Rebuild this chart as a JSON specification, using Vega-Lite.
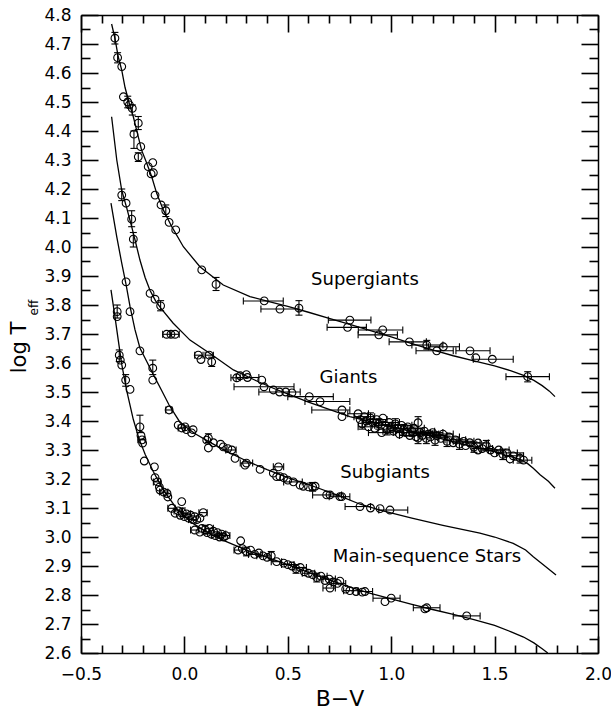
{
"$schema": "https://vega.github.io/schema/vega-lite/v6.json",
"width": 517, "height": 638,
"autosize": {"type": "none"},
"padding": {"left": 81, "top": 15, "right": 13, "bottom": 56},
"background": "white",
"config": {"view": {"stroke": null}, "font": "DejaVu Sans",
  "axis": {"grid": false, "ticks": true, "labelFlush": false, "domainColor": "#000000", "tickColor": "#000000", "labelColor": "black", "titleColor": "black", "domainWidth": 1.5, "tickWidth": 1.6, "labelFont": "DejaVu Sans", "titleFont": "DejaVu Sans", "labelFontSize": 17, "titleFontWeight": "normal"}},
"resolve": {"axis": {"x": "independent", "y": "independent"}},
"datasets": {
"curves": [
{"c":"S","x":-0.352,"y":4.769},{"c":"S","x":-0.336,"y":4.72},{"c":"S","x":-0.32,"y":4.656},{"c":"S","x":-0.303,"y":4.61},{"c":"S","x":-0.287,"y":4.55},{"c":"S","x":-0.266,"y":4.494},{"c":"S","x":-0.247,"y":4.449},{"c":"S","x":-0.231,"y":4.403},{"c":"S","x":-0.207,"y":4.334},{"c":"S","x":-0.182,"y":4.289},{"c":"S","x":-0.158,"y":4.242},{"c":"S","x":-0.134,"y":4.185},{"c":"S","x":-0.102,"y":4.128},{"c":"S","x":-0.061,"y":4.07},{"c":"S","x":-0.005,"y":4.001},{"c":"S","x":0.075,"y":3.932},{"c":"S","x":0.188,"y":3.869},{"c":"S","x":0.317,"y":3.829},{"c":"S","x":0.414,"y":3.811},{"c":"S","x":0.5,"y":3.795},{"c":"S","x":0.6,"y":3.775},{"c":"S","x":0.7,"y":3.754},{"c":"S","x":0.8,"y":3.733},{"c":"S","x":0.9,"y":3.712},{"c":"S","x":1.0,"y":3.69},{"c":"S","x":1.1,"y":3.667},{"c":"S","x":1.2,"y":3.645},{"c":"S","x":1.3,"y":3.625},{"c":"S","x":1.4,"y":3.607},{"c":"S","x":1.5,"y":3.59},{"c":"S","x":1.58,"y":3.573},{"c":"S","x":1.64,"y":3.557},{"c":"S","x":1.69,"y":3.54},{"c":"S","x":1.73,"y":3.522},{"c":"S","x":1.765,"y":3.503},{"c":"S","x":1.792,"y":3.484},
{"c":"G","x":-0.352,"y":4.449},{"c":"G","x":-0.327,"y":4.3},{"c":"G","x":-0.303,"y":4.195},{"c":"G","x":-0.279,"y":4.135},{"c":"G","x":-0.255,"y":4.07},{"c":"G","x":-0.239,"y":4.025},{"c":"G","x":-0.215,"y":3.955},{"c":"G","x":-0.19,"y":3.895},{"c":"G","x":-0.166,"y":3.85},{"c":"G","x":-0.14,"y":3.815},{"c":"G","x":-0.115,"y":3.79},{"c":"G","x":-0.054,"y":3.737},{"c":"G","x":0.027,"y":3.679},{"c":"G","x":0.124,"y":3.633},{"c":"G","x":0.237,"y":3.576},{"c":"G","x":0.35,"y":3.538},{"c":"G","x":0.43,"y":3.513},{"c":"G","x":0.511,"y":3.49},{"c":"G","x":0.6,"y":3.465},{"c":"G","x":0.7,"y":3.44},{"c":"G","x":0.8,"y":3.415},{"c":"G","x":0.9,"y":3.398},{"c":"G","x":1.0,"y":3.381},{"c":"G","x":1.1,"y":3.364},{"c":"G","x":1.2,"y":3.347},{"c":"G","x":1.3,"y":3.328},{"c":"G","x":1.4,"y":3.311},{"c":"G","x":1.5,"y":3.294},{"c":"G","x":1.56,"y":3.281},{"c":"G","x":1.623,"y":3.268},{"c":"G","x":1.66,"y":3.253},{"c":"G","x":1.687,"y":3.237},{"c":"G","x":1.72,"y":3.215},{"c":"G","x":1.76,"y":3.192},{"c":"G","x":1.792,"y":3.168},
{"c":"SG","x":-0.355,"y":4.151},{"c":"SG","x":-0.327,"y":4.035},{"c":"SG","x":-0.303,"y":3.944},{"c":"SG","x":-0.282,"y":3.87},{"c":"SG","x":-0.263,"y":3.795},{"c":"SG","x":-0.239,"y":3.715},{"c":"SG","x":-0.215,"y":3.652},{"c":"SG","x":-0.182,"y":3.605},{"c":"SG","x":-0.15,"y":3.56},{"c":"SG","x":-0.11,"y":3.505},{"c":"SG","x":-0.074,"y":3.455},{"c":"SG","x":-0.021,"y":3.395},{"c":"SG","x":0.05,"y":3.357},{"c":"SG","x":0.12,"y":3.328},{"c":"SG","x":0.2,"y":3.297},{"c":"SG","x":0.301,"y":3.262},{"c":"SG","x":0.4,"y":3.232},{"c":"SG","x":0.5,"y":3.205},{"c":"SG","x":0.623,"y":3.175},{"c":"SG","x":0.75,"y":3.142},{"c":"SG","x":0.85,"y":3.113},{"c":"SG","x":0.946,"y":3.093},{"c":"SG","x":1.1,"y":3.065},{"c":"SG","x":1.25,"y":3.04},{"c":"SG","x":1.429,"y":3.013},{"c":"SG","x":1.5,"y":3.0},{"c":"SG","x":1.59,"y":2.978},{"c":"SG","x":1.65,"y":2.955},{"c":"SG","x":1.687,"y":2.932},{"c":"SG","x":1.74,"y":2.902},{"c":"SG","x":1.797,"y":2.869},
{"c":"MS","x":-0.355,"y":3.852},{"c":"MS","x":-0.338,"y":3.77},{"c":"MS","x":-0.32,"y":3.68},{"c":"MS","x":-0.303,"y":3.595},{"c":"MS","x":-0.279,"y":3.505},{"c":"MS","x":-0.247,"y":3.405},{"c":"MS","x":-0.22,"y":3.34},{"c":"MS","x":-0.19,"y":3.285},{"c":"MS","x":-0.15,"y":3.225},{"c":"MS","x":-0.1,"y":3.16},{"c":"MS","x":-0.037,"y":3.098},{"c":"MS","x":0.03,"y":3.052},{"c":"MS","x":0.124,"y":3.01},{"c":"MS","x":0.2,"y":2.985},{"c":"MS","x":0.3,"y":2.955},{"c":"MS","x":0.4,"y":2.93},{"c":"MS","x":0.5,"y":2.905},{"c":"MS","x":0.6,"y":2.878},{"c":"MS","x":0.7,"y":2.852},{"c":"MS","x":0.8,"y":2.827},{"c":"MS","x":0.9,"y":2.806},{"c":"MS","x":1.0,"y":2.787},{"c":"MS","x":1.1,"y":2.768},{"c":"MS","x":1.2,"y":2.75},{"c":"MS","x":1.3,"y":2.733},{"c":"MS","x":1.4,"y":2.715},{"c":"MS","x":1.5,"y":2.695},{"c":"MS","x":1.58,"y":2.673},{"c":"MS","x":1.64,"y":2.655},{"c":"MS","x":1.69,"y":2.635},{"c":"MS","x":1.73,"y":2.615},{"c":"MS","x":1.757,"y":2.6}
],
"pts": [
{"g":"S","x":-0.336,"y":4.72,"yl":4.70,"yh":4.74},{"g":"S","x":-0.323,"y":4.653,"yl":4.635,"yh":4.67},{"g":"S","x":-0.303,"y":4.622},{"g":"S","x":-0.295,"y":4.518},{"g":"S","x":-0.274,"y":4.50,"yl":4.48,"yh":4.52},{"g":"S","x":-0.266,"y":4.49},{"g":"S","x":-0.252,"y":4.478,"yl":4.455,"yh":4.49},{"g":"S","x":-0.223,"y":4.427,"yl":4.405,"yh":4.45},{"g":"S","x":-0.244,"y":4.389,"yl":4.34,"yh":4.40},{"g":"S","x":-0.211,"y":4.346},{"g":"S","x":-0.223,"y":4.311,"yl":4.295,"yh":4.325},{"g":"S","x":-0.175,"y":4.277},{"g":"S","x":-0.153,"y":4.291},{"g":"S","x":-0.161,"y":4.252},{"g":"S","x":-0.15,"y":4.256},{"g":"S","x":-0.142,"y":4.179},{"g":"S","x":-0.113,"y":4.145},{"g":"S","x":-0.09,"y":4.125,"yl":4.105,"yh":4.145},{"g":"S","x":-0.074,"y":4.085},{"g":"S","x":-0.042,"y":4.059},{"g":"S","x":0.084,"y":3.921},{"g":"S","x":0.153,"y":3.871,"yl":3.85,"yh":3.895},{"g":"S","x":0.386,"y":3.814,"xl":0.285,"xh":0.478},{"g":"S","x":0.462,"y":3.786,"xl":0.37,"xh":0.55},{"g":"S","x":0.554,"y":3.789,"yl":3.765,"yh":3.815},{"g":"S","x":0.80,"y":3.748,"xl":0.696,"xh":0.902},{"g":"S","x":0.789,"y":3.723,"xl":0.69,"xh":0.88},{"g":"S","x":0.959,"y":3.714,"xl":0.841,"xh":1.056},{"g":"S","x":0.94,"y":3.697,"xl":0.84,"xh":1.03},{"g":"S","x":1.088,"y":3.673,"xl":0.99,"xh":1.17},{"g":"S","x":1.172,"y":3.662,"xl":1.1,"xh":1.25,"yl":3.648,"yh":3.678},{"g":"S","x":1.22,"y":3.642,"xl":1.12,"xh":1.3},{"g":"S","x":1.252,"y":3.656,"xl":1.18,"xh":1.33},{"g":"S","x":1.381,"y":3.642,"xl":1.313,"xh":1.478},{"g":"S","x":1.409,"y":3.618},{"g":"S","x":1.489,"y":3.613,"xl":1.397,"xh":1.59},{"g":"S","x":1.66,"y":3.553,"xl":1.555,"xh":1.765,"yl":3.535,"yh":3.57},
{"g":"G","x":-0.303,"y":4.179,"yl":4.16,"yh":4.2},{"g":"G","x":-0.282,"y":4.151},{"g":"G","x":-0.255,"y":4.096,"yl":4.07,"yh":4.125},{"g":"G","x":-0.247,"y":4.027,"yl":4.0,"yh":4.05},{"g":"G","x":-0.166,"y":3.84},{"g":"G","x":-0.142,"y":3.82},{"g":"G","x":-0.115,"y":3.797,"yl":3.78,"yh":3.815},{"g":"G","x":-0.086,"y":3.699,"xl":-0.105,"xh":-0.07},{"g":"G","x":-0.065,"y":3.699},{"g":"G","x":-0.045,"y":3.699,"xl":-0.065,"xh":-0.025},{"g":"G","x":0.067,"y":3.627,"xl":0.05,"xh":0.09},{"g":"G","x":0.08,"y":3.612},{"g":"G","x":0.12,"y":3.627,"xl":0.1,"xh":0.14},{"g":"G","x":0.132,"y":3.604,"yl":3.588,"yh":3.62},{"g":"G","x":0.253,"y":3.549,"xl":0.225,"xh":0.27},{"g":"G","x":0.27,"y":3.556},{"g":"G","x":0.3,"y":3.56},{"g":"G","x":0.305,"y":3.55,"xl":0.25,"xh":0.36},{"g":"G","x":0.374,"y":3.541},{"g":"G","x":0.385,"y":3.518,"xl":0.24,"xh":0.53},{"g":"G","x":0.43,"y":3.507},{"g":"G","x":0.46,"y":3.50,"xl":0.36,"xh":0.56},{"g":"G","x":0.49,"y":3.50},{"g":"G","x":0.52,"y":3.497},{"g":"G","x":0.604,"y":3.484,"xl":0.5,"xh":0.72},{"g":"G","x":0.656,"y":3.467,"xl":0.583,"xh":0.80},{"g":"G","x":0.762,"y":3.438,"xl":0.616,"xh":0.80},{"g":"G","x":0.762,"y":3.415},
{"g":"G","x":0.84,"y":3.425,"xl":0.79,"xh":0.89},{"g":"G","x":0.85,"y":3.405},{"g":"G","x":0.86,"y":3.39,"yl":3.372,"yh":3.408},{"g":"G","x":0.87,"y":3.415,"xl":0.82,"xh":0.92},{"g":"G","x":0.88,"y":3.40},{"g":"G","x":0.89,"y":3.38,"xl":0.84,"xh":0.94},{"g":"G","x":0.90,"y":3.41,"yl":3.392,"yh":3.428},{"g":"G","x":0.91,"y":3.395,"xl":0.86,"xh":0.96},{"g":"G","x":0.92,"y":3.375},{"g":"G","x":0.93,"y":3.405,"xl":0.88,"xh":0.98},{"g":"G","x":0.94,"y":3.39,"yl":3.372,"yh":3.408},{"g":"G","x":0.954,"y":3.36,"xl":0.89,"xh":1.01},{"g":"G","x":0.96,"y":3.41},{"g":"G","x":0.97,"y":3.385,"xl":0.92,"xh":1.02},{"g":"G","x":0.98,"y":3.37,"yl":3.352,"yh":3.388},{"g":"G","x":0.99,"y":3.395,"xl":0.94,"xh":1.04},{"g":"G","x":1.0,"y":3.38},{"g":"G","x":1.01,"y":3.365,"xl":0.96,"xh":1.06},{"g":"G","x":1.02,"y":3.39,"yl":3.372,"yh":3.408},{"g":"G","x":1.03,"y":3.375,"xl":0.98,"xh":1.08},{"g":"G","x":1.04,"y":3.355},{"g":"G","x":1.05,"y":3.385,"xl":1.0,"xh":1.1},{"g":"G","x":1.06,"y":3.37,"yl":3.352,"yh":3.388},{"g":"G","x":1.07,"y":3.36,"xl":1.02,"xh":1.12},{"g":"G","x":1.08,"y":3.38},{"g":"G","x":1.09,"y":3.35,"xl":1.04,"xh":1.14},{"g":"G","x":1.10,"y":3.365,"yl":3.347,"yh":3.383},{"g":"G","x":1.11,"y":3.375,"xl":1.06,"xh":1.16},{"g":"G","x":1.12,"y":3.345},{"g":"G","x":1.13,"y":3.394,"yl":3.375,"yh":3.415},{"g":"G","x":1.13,"y":3.341,"yl":3.322,"yh":3.36},{"g":"G","x":1.14,"y":3.36,"xl":1.09,"xh":1.19},{"g":"G","x":1.15,"y":3.35},{"g":"G","x":1.16,"y":3.365,"xl":1.11,"xh":1.21},{"g":"G","x":1.17,"y":3.34,"yl":3.322,"yh":3.358},{"g":"G","x":1.18,"y":3.355,"xl":1.13,"xh":1.23},{"g":"G","x":1.19,"y":3.345},{"g":"G","x":1.2,"y":3.36,"xl":1.15,"xh":1.25},{"g":"G","x":1.212,"y":3.334,"yl":3.316,"yh":3.352},{"g":"G","x":1.22,"y":3.35,"xl":1.17,"xh":1.27},{"g":"G","x":1.24,"y":3.34},{"g":"G","x":1.25,"y":3.355,"xl":1.2,"xh":1.3},{"g":"G","x":1.27,"y":3.33,"yl":3.312,"yh":3.348},{"g":"G","x":1.28,"y":3.345,"xl":1.23,"xh":1.33},{"g":"G","x":1.30,"y":3.325},{"g":"G","x":1.31,"y":3.335,"xl":1.26,"xh":1.36},{"g":"G","x":1.33,"y":3.32,"yl":3.302,"yh":3.338},{"g":"G","x":1.35,"y":3.33,"xl":1.3,"xh":1.4},{"g":"G","x":1.36,"y":3.315},{"g":"G","x":1.38,"y":3.325,"xl":1.33,"xh":1.43},{"g":"G","x":1.40,"y":3.31,"yl":3.292,"yh":3.328},{"g":"G","x":1.42,"y":3.324,"xl":1.37,"xh":1.47},{"g":"G","x":1.42,"y":3.30},{"g":"G","x":1.44,"y":3.305,"xl":1.39,"xh":1.49},{"g":"G","x":1.46,"y":3.315,"yl":3.297,"yh":3.333},{"g":"G","x":1.48,"y":3.30,"xl":1.43,"xh":1.53},{"g":"G","x":1.50,"y":3.29},{"g":"G","x":1.52,"y":3.30,"xl":1.47,"xh":1.57},{"g":"G","x":1.54,"y":3.285,"yl":3.267,"yh":3.303},{"g":"G","x":1.56,"y":3.29,"xl":1.51,"xh":1.61},{"g":"G","x":1.575,"y":3.269},{"g":"G","x":1.59,"y":3.28,"xl":1.54,"xh":1.64},{"g":"G","x":1.623,"y":3.272,"yl":3.255,"yh":3.29},{"g":"G","x":1.64,"y":3.265,"xl":1.59,"xh":1.68},
{"g":"SG","x":-0.282,"y":3.88},{"g":"SG","x":-0.263,"y":3.777},{"g":"SG","x":-0.215,"y":3.642},{"g":"SG","x":-0.153,"y":3.582,"yl":3.56,"yh":3.61},{"g":"SG","x":-0.153,"y":3.541},{"g":"SG","x":-0.074,"y":3.438,"xl":-0.09,"xh":-0.06},{"g":"SG","x":-0.03,"y":3.386},{"g":"SG","x":-0.013,"y":3.376,"xl":-0.03,"xh":0.0},{"g":"SG","x":0.003,"y":3.38},{"g":"SG","x":0.01,"y":3.37},{"g":"SG","x":0.035,"y":3.359},{"g":"SG","x":0.042,"y":3.37},{"g":"SG","x":0.108,"y":3.334},{"g":"SG","x":0.116,"y":3.341,"yl":3.326,"yh":3.356},{"g":"SG","x":0.116,"y":3.307},{"g":"SG","x":0.14,"y":3.325},{"g":"SG","x":0.175,"y":3.32},{"g":"SG","x":0.188,"y":3.311},{"g":"SG","x":0.21,"y":3.305},{"g":"SG","x":0.229,"y":3.30,"xl":0.2,"xh":0.25},{"g":"SG","x":0.245,"y":3.271},{"g":"SG","x":0.293,"y":3.248},{"g":"SG","x":0.3,"y":3.255,"xl":0.27,"xh":0.33},{"g":"SG","x":0.366,"y":3.233},{"g":"SG","x":0.455,"y":3.242,"xl":0.43,"xh":0.48},{"g":"SG","x":0.43,"y":3.22},{"g":"SG","x":0.446,"y":3.208},{"g":"SG","x":0.462,"y":3.208},{"g":"SG","x":0.48,"y":3.205},{"g":"SG","x":0.5,"y":3.196},{"g":"SG","x":0.527,"y":3.19,"xl":0.48,"xh":0.57},{"g":"SG","x":0.559,"y":3.179},{"g":"SG","x":0.575,"y":3.175},{"g":"SG","x":0.6,"y":3.173},{"g":"SG","x":0.62,"y":3.173,"yl":3.158,"yh":3.188},{"g":"SG","x":0.632,"y":3.175},{"g":"SG","x":0.688,"y":3.145,"xl":0.62,"xh":0.76},{"g":"SG","x":0.704,"y":3.145},{"g":"SG","x":0.752,"y":3.139,"xl":0.7,"xh":0.8},{"g":"SG","x":0.761,"y":3.139},{"g":"SG","x":0.849,"y":3.105,"xl":0.777,"xh":0.9},{"g":"SG","x":0.90,"y":3.10},{"g":"SG","x":0.946,"y":3.098},{"g":"SG","x":0.994,"y":3.093,"xl":0.94,"xh":1.08},
{"g":"MS","x":-0.325,"y":3.777,"yl":3.755,"yh":3.8},{"g":"MS","x":-0.325,"y":3.76},{"g":"MS","x":-0.315,"y":3.627,"yl":3.605,"yh":3.645},{"g":"MS","x":-0.31,"y":3.61},{"g":"MS","x":-0.303,"y":3.593},{"g":"MS","x":-0.284,"y":3.541,"yl":3.52,"yh":3.56},{"g":"MS","x":-0.263,"y":3.509},{"g":"MS","x":-0.215,"y":3.38,"yl":3.36,"yh":3.42},{"g":"MS","x":-0.21,"y":3.35},{"g":"MS","x":-0.205,"y":3.335,"xl":-0.225,"xh":-0.19},{"g":"MS","x":-0.202,"y":3.324},{"g":"MS","x":-0.194,"y":3.262},{"g":"MS","x":-0.145,"y":3.242},{"g":"MS","x":-0.142,"y":3.205},{"g":"MS","x":-0.13,"y":3.19,"xl":-0.15,"xh":-0.115},{"g":"MS","x":-0.121,"y":3.172},{"g":"MS","x":-0.118,"y":3.162},{"g":"MS","x":-0.1,"y":3.155,"xl":-0.12,"xh":-0.08},{"g":"MS","x":-0.084,"y":3.15},{"g":"MS","x":-0.08,"y":3.138},{"g":"MS","x":-0.061,"y":3.099,"xl":-0.08,"xh":-0.045},{"g":"MS","x":-0.013,"y":3.122},{"g":"MS","x":-0.045,"y":3.082},{"g":"MS","x":-0.03,"y":3.09,"xl":-0.05,"xh":-0.01},{"g":"MS","x":-0.02,"y":3.075},{"g":"MS","x":-0.01,"y":3.085,"yl":3.07,"yh":3.1},{"g":"MS","x":0.0,"y":3.07},{"g":"MS","x":0.01,"y":3.08,"xl":-0.01,"xh":0.03},{"g":"MS","x":0.02,"y":3.065},{"g":"MS","x":0.03,"y":3.075},{"g":"MS","x":0.04,"y":3.06,"xl":0.02,"xh":0.06},{"g":"MS","x":0.05,"y":3.07},{"g":"MS","x":0.06,"y":3.06},{"g":"MS","x":0.075,"y":3.065},{"g":"MS","x":0.091,"y":3.084,"xl":0.07,"xh":0.11},{"g":"MS","x":0.05,"y":3.024,"xl":0.03,"xh":0.07},{"g":"MS","x":0.075,"y":3.017},{"g":"MS","x":0.085,"y":3.03},{"g":"MS","x":0.1,"y":3.025,"yl":3.01,"yh":3.04},{"g":"MS","x":0.11,"y":3.015},{"g":"MS","x":0.12,"y":3.03,"xl":0.1,"xh":0.14},{"g":"MS","x":0.13,"y":3.01},{"g":"MS","x":0.14,"y":3.02},{"g":"MS","x":0.15,"y":3.005,"xl":0.13,"xh":0.17},{"g":"MS","x":0.16,"y":3.015},{"g":"MS","x":0.17,"y":3.0},{"g":"MS","x":0.18,"y":3.01,"xl":0.16,"xh":0.2},{"g":"MS","x":0.19,"y":3.0},{"g":"MS","x":0.2,"y":3.005,"xl":0.18,"xh":0.22},{"g":"MS","x":0.272,"y":2.987},{"g":"MS","x":0.26,"y":2.955,"xl":0.24,"xh":0.28},{"g":"MS","x":0.28,"y":2.96},{"g":"MS","x":0.3,"y":2.95,"yl":2.935,"yh":2.965},{"g":"MS","x":0.32,"y":2.955},{"g":"MS","x":0.34,"y":2.94,"xl":0.31,"xh":0.37},{"g":"MS","x":0.36,"y":2.945},{"g":"MS","x":0.38,"y":2.935,"xl":0.35,"xh":0.41},{"g":"MS","x":0.40,"y":2.93},{"g":"MS","x":0.42,"y":2.935,"yl":2.92,"yh":2.95},{"g":"MS","x":0.446,"y":2.915,"xl":0.42,"xh":0.47},{"g":"MS","x":0.48,"y":2.91},{"g":"MS","x":0.5,"y":2.905,"xl":0.47,"xh":0.53},{"g":"MS","x":0.52,"y":2.9},{"g":"MS","x":0.54,"y":2.89,"yl":2.875,"yh":2.905},{"g":"MS","x":0.56,"y":2.895,"xl":0.53,"xh":0.59},{"g":"MS","x":0.58,"y":2.88},{"g":"MS","x":0.6,"y":2.875,"xl":0.57,"xh":0.63},{"g":"MS","x":0.62,"y":2.87},{"g":"MS","x":0.64,"y":2.86,"yl":2.845,"yh":2.875},{"g":"MS","x":0.66,"y":2.865,"xl":0.63,"xh":0.69},{"g":"MS","x":0.68,"y":2.85},{"g":"MS","x":0.7,"y":2.855,"xl":0.67,"xh":0.73},{"g":"MS","x":0.72,"y":2.845},{"g":"MS","x":0.74,"y":2.84,"xl":0.71,"xh":0.78},{"g":"MS","x":0.752,"y":2.848},{"g":"MS","x":0.704,"y":2.824,"xl":0.67,"xh":0.73},{"g":"MS","x":0.78,"y":2.82},{"g":"MS","x":0.8,"y":2.815,"xl":0.77,"xh":0.84},{"g":"MS","x":0.83,"y":2.812},{"g":"MS","x":0.86,"y":2.81},{"g":"MS","x":0.873,"y":2.812,"xl":0.84,"xh":0.91},{"g":"MS","x":0.97,"y":2.777},{"g":"MS","x":1.0,"y":2.789,"xl":0.912,"xh":1.043},{"g":"MS","x":1.163,"y":2.752},{"g":"MS","x":1.172,"y":2.756,"xl":1.107,"xh":1.236},{"g":"MS","x":1.365,"y":2.728,"xl":1.3,"xh":1.43}
],
"labels": [
{"t":"Supergiants","x":0.873,"y":3.886},{"t":"Giants","x":0.793,"y":3.549},{"t":"Subgiants","x":0.97,"y":3.22},{"t":"Main-sequence Stars","x":1.173,"y":2.932}
]
},
"layer": [
{"data": {"name": "curves"},
 "mark": {"type": "line", "color": "black", "strokeWidth": 1.3},
 "encoding": {
  "x": {"field": "x", "type": "quantitative", "scale": {"domain": [-0.5, 2.0], "nice": false, "zero": false},
        "axis": {"orient": "bottom", "values": [-0.5,0,0.5,1,1.5,2], "format": ".1f", "ticks": false, "labelPadding": 13, "title": "B−V", "titleFontSize": 22, "titleBaseline": "alphabetic", "titleY": 52}},
  "y": {"field": "y", "type": "quantitative", "scale": {"domain": [2.6, 4.8], "nice": false, "zero": false},
        "axis": {"orient": "left", "values": [2.6,2.7,2.8,2.9,3.0,3.1,3.2,3.3,3.4,3.5,3.6,3.7,3.8,3.9,4.0,4.1,4.2,4.3,4.4,4.5,4.6,4.7,4.8], "format": ".1f", "ticks": false, "labelPadding": 10, "title": "log T", "titleFontSize": 21, "titleAngle": 270, "titleAlign": "center", "titleBaseline": "alphabetic", "titleX": -56, "titleY": 332}},
  "detail": {"field": "c"}}},
{"data": {"name": "curves"},
 "mark": {"type": "point", "opacity": 0},
 "encoding": {
  "x": {"field": "x", "type": "quantitative", "scale": {"domain": [-0.5, 2.0], "nice": false, "zero": false},
        "axis": {"orient": "bottom", "zindex": 1, "values": [-0.5,0,0.5,1,1.5,2], "tickSize": -17, "labels": false, "domain": false, "title": null}},
  "y": {"field": "y", "type": "quantitative", "scale": {"domain": [2.6, 4.8], "nice": false, "zero": false},
        "axis": {"orient": "left", "zindex": 1, "values": [2.6,2.7,2.8,2.9,3.0,3.1,3.2,3.3,3.4,3.5,3.6,3.7,3.8,3.9,4.0,4.1,4.2,4.3,4.4,4.5,4.6,4.7,4.8], "tickSize": -17, "labels": false, "domain": false, "title": null}}}},
{"data": {"name": "curves"},
 "mark": {"type": "point", "opacity": 0},
 "encoding": {
  "x": {"field": "x", "type": "quantitative", "scale": {"domain": [-0.5, 2.0], "nice": false, "zero": false},
        "axis": {"orient": "bottom", "zindex": 1, "values": [-0.4,-0.3,-0.2,-0.1,0.1,0.2,0.3,0.4,0.6,0.7,0.8,0.9,1.1,1.2,1.3,1.4,1.6,1.7,1.8,1.9], "tickSize": -8, "labels": false, "domain": false, "title": null}},
  "y": {"field": "y", "type": "quantitative", "scale": {"domain": [2.6, 4.8], "nice": false, "zero": false},
        "axis": {"orient": "left", "zindex": 1, "values": [2.65,2.75,2.85,2.95,3.05,3.15,3.25,3.35,3.45,3.55,3.65,3.75,3.85,3.95,4.05,4.15,4.25,4.35,4.45,4.55,4.65,4.75], "tickSize": -9, "labels": false, "domain": false, "title": null}}}},
{"data": {"name": "curves"},
 "mark": {"type": "point", "opacity": 0},
 "encoding": {
  "x": {"field": "x", "type": "quantitative", "scale": {"domain": [-0.5, 2.0], "nice": false, "zero": false},
        "axis": {"orient": "top", "zindex": 1, "values": [-0.5,0,0.5,1,1.5,2], "tickSize": -17, "labels": false, "title": null}},
  "y": {"field": "y", "type": "quantitative", "scale": {"domain": [2.6, 4.8], "nice": false, "zero": false},
        "axis": {"orient": "right", "zindex": 1, "values": [2.6,2.7,2.8,2.9,3.0,3.1,3.2,3.3,3.4,3.5,3.6,3.7,3.8,3.9,4.0,4.1,4.2,4.3,4.4,4.5,4.6,4.7,4.8], "tickSize": -17, "labels": false, "title": null}}}},
{"data": {"name": "curves"},
 "mark": {"type": "point", "opacity": 0},
 "encoding": {
  "x": {"field": "x", "type": "quantitative", "scale": {"domain": [-0.5, 2.0], "nice": false, "zero": false},
        "axis": {"orient": "top", "zindex": 1, "values": [-0.4,-0.3,-0.2,-0.1,0.1,0.2,0.3,0.4,0.6,0.7,0.8,0.9,1.1,1.2,1.3,1.4,1.6,1.7,1.8,1.9], "tickSize": -8, "labels": false, "domain": false, "title": null}},
  "y": {"field": "y", "type": "quantitative", "scale": {"domain": [2.6, 4.8], "nice": false, "zero": false},
        "axis": {"orient": "right", "zindex": 1, "values": [2.65,2.75,2.85,2.95,3.05,3.15,3.25,3.35,3.45,3.55,3.65,3.75,3.85,3.95,4.05,4.15,4.25,4.35,4.45,4.55,4.65,4.75], "tickSize": -9, "labels": false, "domain": false, "title": null}}}},
{"data": {"name": "pts"},
 "transform": [{"filter": "isValid(datum.xl)"}],
 "mark": {"type": "rule", "color": "black", "strokeWidth": 1.1},
 "encoding": {
  "x": {"field": "xl", "type": "quantitative", "scale": {"domain": [-0.5, 2.0], "nice": false, "zero": false}, "axis": null},
  "x2": {"field": "xh"},
  "y": {"field": "y", "type": "quantitative", "scale": {"domain": [2.6, 4.8], "nice": false, "zero": false}, "axis": null}}},
{"data": {"name": "pts"},
 "transform": [{"filter": "isValid(datum.xl)"}, {"fold": ["xl", "xh"], "as": ["k", "v"]}],
 "mark": {"type": "tick", "orient": "vertical", "size": 7, "thickness": 1.1, "color": "black", "opacity": 1},
 "encoding": {
  "x": {"field": "v", "type": "quantitative", "scale": {"domain": [-0.5, 2.0], "nice": false, "zero": false}, "axis": null},
  "y": {"field": "y", "type": "quantitative", "scale": {"domain": [2.6, 4.8], "nice": false, "zero": false}, "axis": null}}},
{"data": {"name": "pts"},
 "transform": [{"filter": "isValid(datum.yl)"}],
 "mark": {"type": "rule", "color": "black", "strokeWidth": 1.1},
 "encoding": {
  "x": {"field": "x", "type": "quantitative", "scale": {"domain": [-0.5, 2.0], "nice": false, "zero": false}, "axis": null},
  "y": {"field": "yl", "type": "quantitative", "scale": {"domain": [2.6, 4.8], "nice": false, "zero": false}, "axis": null},
  "y2": {"field": "yh"}}},
{"data": {"name": "pts"},
 "transform": [{"filter": "isValid(datum.yl)"}, {"fold": ["yl", "yh"], "as": ["k", "v"]}],
 "mark": {"type": "tick", "orient": "horizontal", "size": 7, "thickness": 1.1, "color": "black", "opacity": 1},
 "encoding": {
  "x": {"field": "x", "type": "quantitative", "scale": {"domain": [-0.5, 2.0], "nice": false, "zero": false}, "axis": null},
  "y": {"field": "v", "type": "quantitative", "scale": {"domain": [2.6, 4.8], "nice": false, "zero": false}, "axis": null}}},
{"data": {"name": "pts"},
 "mark": {"type": "point", "shape": "circle", "filled": false, "stroke": "black", "strokeWidth": 1.1, "size": 60, "opacity": 1},
 "encoding": {
  "x": {"field": "x", "type": "quantitative", "scale": {"domain": [-0.5, 2.0], "nice": false, "zero": false}, "axis": null},
  "y": {"field": "y", "type": "quantitative", "scale": {"domain": [2.6, 4.8], "nice": false, "zero": false}, "axis": null}}},
{"data": {"name": "labels"},
 "mark": {"type": "text", "font": "DejaVu Sans", "fontSize": 18, "align": "center", "baseline": "middle", "color": "black"},
 "encoding": {
  "x": {"field": "x", "type": "quantitative", "scale": {"domain": [-0.5, 2.0], "nice": false, "zero": false}, "axis": null},
  "y": {"field": "y", "type": "quantitative", "scale": {"domain": [2.6, 4.8], "nice": false, "zero": false}, "axis": null},
  "text": {"field": "t"}}},
{"data": {"values": [{"t": "eff"}]},
 "mark": {"type": "text", "font": "DejaVu Sans", "fontSize": 12, "angle": 270, "align": "center", "baseline": "alphabetic", "dy": -43, "color": "black"},
 "encoding": {
  "x": {"datum": -0.5, "type": "quantitative", "scale": {"domain": [-0.5, 2.0], "nice": false, "zero": false}, "axis": null},
  "y": {"datum": 3.791, "type": "quantitative", "scale": {"domain": [2.6, 4.8], "nice": false, "zero": false}, "axis": null},
  "text": {"field": "t"}}}
]
}
